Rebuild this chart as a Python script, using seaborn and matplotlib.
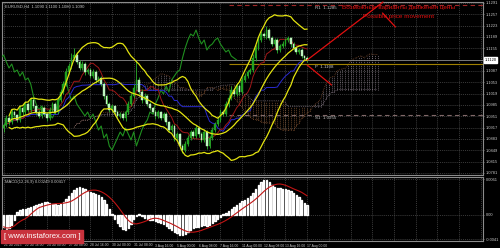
import numpy as np
import pandas as pd
import matplotlib
matplotlib.use("Agg")
import matplotlib.pyplot as plt
import seaborn as sns

# ---------------- data ----------------
close = [
    1.0925, 1.0946, 1.0934, 1.0964, 1.0955, 1.0940, 1.0976, 1.0964, 1.0988, 1.0970,
    1.1000, 1.0982, 1.0964, 1.0952, 1.0976, 1.0958, 1.0946, 1.0970, 1.0988, 1.0964,
    1.1000, 1.1024, 1.1048, 1.1084, 1.1102, 1.1126, 1.1135, 1.1114, 1.1096, 1.1108,
    1.1084, 1.1090, 1.1072, 1.1084, 1.1060, 1.1066, 1.1048, 1.1012, 1.0988, 1.0970,
    1.0982, 1.0964, 1.0952, 1.0958, 1.0946, 1.0964, 1.0988, 1.1012, 1.1036, 1.1060,
    1.1024, 1.1000, 1.1012, 1.0988, 1.0976, 1.0964, 1.0952, 1.0964, 1.0946, 1.0958,
    1.0934, 1.0910, 1.0922, 1.0886, 1.0898, 1.0862, 1.0850, 1.0868, 1.0886, 1.0904,
    1.0892, 1.0916, 1.0898, 1.0880, 1.0904, 1.0862, 1.0886, 1.0910, 1.0928, 1.0940,
    1.0964, 1.0958, 1.0988, 1.1006, 1.1030, 1.1018, 1.1042, 1.1024, 1.1060, 1.1072,
    1.1084, 1.1090, 1.1126, 1.1156, 1.1180, 1.1198, 1.1192, 1.1210, 1.1186, 1.1168,
    1.1180, 1.1150, 1.1162, 1.1168, 1.1180, 1.1186, 1.1168, 1.1156, 1.1144, 1.1150,
    1.1132, 1.1126, 1.1120,
]
first_open = 1.0915
up_wick_pips = [
    6, 8, 5, 10, 6, 4, 8, 6, 9, 5,
    8, 6, 4, 5, 7, 5, 6, 8, 7, 5,
    9, 10, 8, 12, 9, 14, 20, 8, 6, 9,
    5, 7, 6, 8, 5, 7, 6, 5, 4, 6,
    5, 4, 6, 5, 4, 7, 8, 10, 12, 60,
    10, 8, 9, 6, 5, 4, 6, 5, 4, 6,
    5, 4, 6, 5, 6, 4, 5, 8, 9, 7,
    6, 9, 5, 6, 8, 5, 7, 8, 6, 9,
    8, 6, 10, 8, 12, 6, 9, 5, 10, 8,
    7, 6, 12, 10, 9, 8, 7, 12, 6, 5,
    7, 6, 5, 8, 6, 5, 4, 6, 5, 7,
    5, 4, 5,
]
dn_wick_pips = [
    10, 6, 8, 5, 7, 6, 5, 8, 6, 7,
    5, 6, 8, 7, 5, 6, 9, 5, 6, 7,
    6, 5, 7, 6, 5, 8, 6, 5, 7, 6,
    8, 5, 7, 6, 9, 5, 6, 8, 6, 7,
    5, 6, 7, 5, 6, 8, 5, 6, 7, 5,
    6, 8, 5, 7, 6, 5, 8, 6, 7, 5,
    8, 7, 6, 9, 6, 8, 10, 6, 7, 5,
    6, 5, 8, 7, 6, 9, 6, 5, 7, 6,
    5, 7, 6, 8, 5, 7, 6, 8, 5, 6,
    7, 5, 6, 8, 6, 7, 5, 8, 6, 7,
    5, 8, 6, 5, 7, 6, 8, 5, 6, 7,
    5, 6, 5,
]
macd_hist_pips = [
    -20, -24, -22, -17, -9, 5, 9, 10, 10, 12,
    14, 15, 17, 19, 20, 22, 22, 20, 19, 19,
    17, 19, 22, 27, 32, 37, 43, 46, 48, 46,
    44, 41, 39, 37, 36, 34, 31, 26, 19, 10,
    2, -7, -14, -19, -24, -26, -22, -15, -7, -2,
    2, -2, -5, -7, -9, -9, -10, -12, -14, -15,
    -19, -22, -26, -29, -31, -34, -34, -32, -29, -26,
    -22, -20, -20, -19, -17, -19, -17, -14, -10, -7,
    -3, 1, 3, 7, 10, 14, 17, 20, 24, 26,
    29, 32, 37, 44, 51, 56, 60, 60, 56, 51,
    48, 46, 46, 44, 44, 43, 41, 37, 34, 31,
    26, 20, 17,
]
date_labels = ["21 Jul 2015", "22 Jul 16:00", "24 Jul 00:00", "27 Jul 08:00",
               "28 Jul 16:00", "30 Jul 00:00", "31 Jul 08:00", "3 Aug 16:00",
               "5 Aug 00:00", "6 Aug 08:00", "7 Aug 16:00", "11 Aug 00:00",
               "12 Aug 08:00", "13 Aug 16:00", "17 Aug 00:00"]
price_ticks = [1.1291, 1.1257, 1.1223, 1.1189, 1.1155, 1.1087, 1.1053,
               1.1019, 1.0985, 1.0951, 1.0917, 1.0883, 1.0849, 1.0815, 1.0781]
macd_ticks = [0.0061, 0.0, -0.0041]
macd_tick_labels = ["0.0061", "0.00", "-0.0041"]
pivot_names = ["R1", "P", "S1"]
pivot_values = [1.1285, 1.1108, 1.0955]
pivot_start_bar = 83
arrow_up_bars = [112, 140]
arrow_up_prices = [1.1120, 1.1294]
arrow_dn_bars = [112, 121]
arrow_dn_prices = [1.1105, 1.1045]
arrow_x_bars = [139.8, 144.6]
arrow_x_prices = [1.1261, 1.1219]
header_text = "EURUSD,H4  1.1090 1.1100 1.1080 1.1090"
macd_text = "MACD(12,26,9) 0.00249 0.00417"
note_ru = "Возможные варианты движения цены"
note_en = "Possible price movement"
watermark = "[ www.instaforex.com ]"

# ---------------- derived series ----------------
n = len(close)
idx = np.arange(n)
c = pd.Series(close)
o = pd.Series([first_open] + close[:-1])
hi = pd.Series(np.maximum(o, c) + np.array(up_wick_pips[:n]) * 1e-4)
lo = pd.Series(np.minimum(o, c) - np.array(dn_wick_pips[:n]) * 1e-4)

bb_mid = c.rolling(20, min_periods=3).mean()
bb_sd = c.rolling(20, min_periods=3).std(ddof=0)
bb_up = bb_mid + 2 * bb_sd
bb_dn = bb_mid - 2 * bb_sd

tenkan = (hi.rolling(9, min_periods=1).max() + lo.rolling(9, min_periods=1).min()) / 2
kijun = (hi.rolling(26, min_periods=1).max() + lo.rolling(26, min_periods=1).min()) / 2
span_a = (tenkan + kijun) / 2
span_b = (hi.rolling(52, min_periods=1).max() + lo.rolling(52, min_periods=1).min()) / 2
cloud_x = idx + 26
chikou_x = idx - 26

hist = pd.Series(macd_hist_pips) * 1e-4
signal = hist.rolling(9, min_periods=1).mean()

# ---------------- figure ----------------
sns.set_style("dark")
plt.rcParams["font.family"] = ["Liberation Sans", "DejaVu Sans"]
W, H = 500, 248
fig = plt.figure(figsize=(W / 100, H / 100), dpi=100, facecolor="black")


def fx(px):
    return px / W


def fy(py):
    return 1 - py / H


left_px, right_px = 2, 483
ax = fig.add_axes([fx(left_px), fy(175), fx(right_px - left_px), (175 - 2) / H])
ax2 = fig.add_axes([fx(left_px), fy(241), fx(right_px - left_px), (241 - 177) / H])

bar_px = 2.71
x0 = -0.6
x1 = x0 + (right_px - left_px) / bar_px

grid_col = "#505050"
tick_col = "#c8c8c8"
for a in (ax, ax2):
    a.set_facecolor("black")
    a.set_xlim(x0, x1)
    for s in a.spines.values():
        s.set_color("#8c8c8c")
        s.set_linewidth(0.8)
    a.grid(True, color=grid_col, linestyle=(0, (1.5, 1.5)), linewidth=0.5)
    a.set_axisbelow(True)
    a.yaxis.tick_right()
    a.tick_params(axis="y", colors="#8c8c8c", labelcolor=tick_col, labelsize=2.9,
                  length=1.0, width=0.5, pad=0.8)
    a.set_xticks(np.arange(0, x1, 8))

ax.tick_params(axis="x", length=0, labelbottom=False)
ax2.tick_params(axis="x", colors="#8c8c8c", labelcolor=tick_col, labelsize=2.4,
                length=1.0, width=0.5, pad=0.8)
xt = np.arange(0, x1, 8)
ax2.set_xticklabels([date_labels[k] if k < len(date_labels) else "" for k in range(len(xt))],
                    ha="left")

ax.set_ylim(1.1300 - 0.0003 * 175, 1.1300 - 0.0003 * 2)
ax.set_yticks(price_ticks)
ax.set_yticklabels([f"{p:.4f}" for p in price_ticks])

# ichimoku cloud (dotted vertical hatching)
for xi, a_, b_ in zip(cloud_x, span_a, span_b):
    col = "#b87848" if a_ < b_ else "#b8a8b8"
    ax.vlines(xi, min(a_, b_), max(a_, b_), colors=col, linestyles=(0, (1, 1.6)),
              linewidth=0.55, alpha=0.85, zorder=1)
sns.lineplot(x=cloud_x, y=span_a, ax=ax, color="#a0603a", lw=0.5, linestyle=":",
             estimator=None, sort=False, zorder=1)
sns.lineplot(x=cloud_x, y=span_b, ax=ax, color="#a090a0", lw=0.5, linestyle=":",
             estimator=None, sort=False, zorder=1)

# pivot levels
lv_cols = ["#a02828", "#a08000", "#806868"]
lv_styles = [(0, (4, 3)), "-", (0, (4, 3))]
for name, val, col, ls in zip(pivot_names, pivot_values, lv_cols, lv_styles):
    ax.hlines(val, pivot_start_bar, x1, colors=col, linestyles=ls, linewidth=0.8, zorder=2)
    ax.text(115, val - 0.0002, f"{name}  {val:.4f}", color="#c8c8c8", fontsize=3.2,
            va="top", ha="left", zorder=6)

# bid line
ax.axhline(close[-1], color="#8c8c8c", linewidth=0.6, zorder=2)

# chikou, kijun, tenkan
sns.lineplot(x=chikou_x, y=c, ax=ax, color="#1f8f1f", lw=0.8, estimator=None, sort=False, zorder=3)
sns.lineplot(x=idx, y=kijun, ax=ax, color="#2a2ad0", lw=0.7, estimator=None, sort=False, zorder=3)
sns.lineplot(x=idx, y=tenkan, ax=ax, color="#a01818", lw=0.7, estimator=None, sort=False, zorder=3)

# candles
bull = c >= o
wick_col = "#2ab02a"
ax.vlines(idx, lo, hi, colors=wick_col, linewidth=0.6, zorder=4)
ax.bar(idx[bull], (c - o)[bull].abs().clip(lower=0.00012), bottom=o[bull], width=0.62,
       color="#1e9e1e", edgecolor="#2ab02a", linewidth=0.3, zorder=5)
ax.bar(idx[~bull], (o - c)[~bull].abs().clip(lower=0.00012), bottom=c[~bull], width=0.62,
       color="#c0f4c0", edgecolor="#c0f4c0", linewidth=0.3, zorder=5)

# bollinger bands
for s in (bb_up, bb_mid, bb_dn):
    sns.lineplot(x=idx, y=s, ax=ax, color="#e4e410", lw=0.9, estimator=None, sort=False, zorder=6)

# red scenario lines
for bx, by in ((arrow_up_bars, arrow_up_prices), (arrow_dn_bars, arrow_dn_prices),
               (arrow_x_bars, arrow_x_prices)):
    ax.plot(bx, by, color="#e01010", lw=0.9, zorder=7, clip_on=False)
ax.text(145.7, 1.1277, note_ru, color="#e01010", fontsize=4.6, ha="center", va="center", zorder=8)
ax.text(145.7, 1.1250, note_en, color="#e01010", fontsize=4.6, ha="center", va="center", zorder=8)

# current price tag
ax.text(1.003, close[-1], f"{close[-1]:.4f}", transform=ax.get_yaxis_transform(),
        fontsize=2.9, color="black", va="center", ha="left",
        bbox=dict(boxstyle="square,pad=0.2", facecolor="white", edgecolor="white"), zorder=9)

ax.text(0.007, 0.988, header_text, transform=ax.transAxes, fontsize=3.0,
        color="#c8c8c8", va="top", ha="left")
if ax.get_legend() is not None:
    ax.get_legend().remove()
ax.set_xlabel("")
ax.set_ylabel("")

# MACD panel
ax2.set_ylim(-26 * 0.00017, 38 * 0.00017)
ax2.set_yticks(macd_ticks)
ax2.set_yticklabels(macd_tick_labels)
ax2.bar(np.arange(len(hist)), hist, width=0.5, color="#c4c4c4", zorder=3)
sns.lineplot(x=np.arange(len(signal)), y=signal, ax=ax2, color="#c01414", lw=0.8,
             estimator=None, sort=False, zorder=4)
ax2.text(0.006, 0.95, macd_text, transform=ax2.transAxes, fontsize=3.0,
         color="#c8c8c8", va="top", ha="left")
ax2.set_xlabel("")
ax2.set_ylabel("")

fig.text(fx(4), fy(236.5), watermark, fontsize=5.5, color="white", va="center", ha="left",
         bbox=dict(boxstyle="square,pad=0.35", facecolor="#c8323c", edgecolor="#c8323c"))

fig.savefig("out.png", dpi=100, facecolor="black")
